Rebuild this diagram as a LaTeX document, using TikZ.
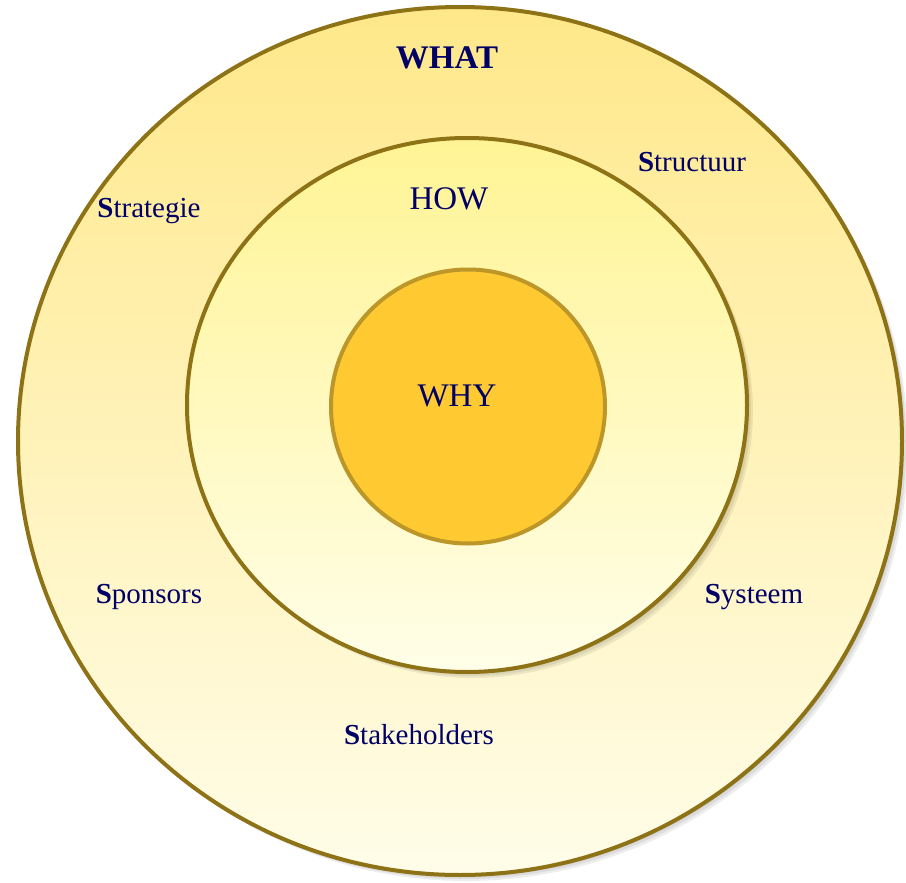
\documentclass[tikz,border=0pt]{standalone}
\usepackage{fontspec}
\setmainfont{Liberation Serif}
\definecolor{navy}{HTML}{000066}
\definecolor{rim}{HTML}{8E7216}
\definecolor{outertop}{HTML}{FFE88A}
\definecolor{outerbot}{HTML}{FFFDE9}
\definecolor{midtop}{HTML}{FFF494}
\definecolor{midbot}{HTML}{FFFEE8}
\definecolor{core}{HTML}{FFCA31}
\definecolor{corerim}{HTML}{BC9628}
\tikzset{
  word/.style={text=navy, font=\fontsize{29}{31}\selectfont},
  title/.style={text=navy, font=\fontsize{33}{35}\selectfont},
  shadow/.style={fill=black, opacity=0.07}
}
\begin{document}
\begin{tikzpicture}[x=1pt, y=-1pt]
  \useasboundingbox (0,0) rectangle (906,883);
  % outer ring
  \foreach \d in {2,4,6}
    \fill[shadow] (460+\d,441+\d) ellipse (442pt and 434pt);
  \shade[top color=outertop, bottom color=outerbot, draw=rim, line width=4pt]
    (460,441) ellipse (442pt and 434pt);
  % middle ring
  \foreach \d in {2,4,6}
    \fill[shadow] (467+\d,405+\d) ellipse (280pt and 267pt);
  \shade[top color=midtop, bottom color=midbot, draw=rim, line width=4pt]
    (467,405) ellipse (280pt and 267pt);
  % core
  \draw[fill=core, draw=corerim, line width=4pt] (468,406.5) circle (137pt);
  % texts
  \node[title, font=\fontsize{33}{35}\selectfont\bfseries] (what) at (447,58) {WHAT};
  \node[title] (how) at (449,199) {HOW};
  \node[title] (why) at (457,396) {WHY};
  \node[word] (strategie) at (149,211) {{\bfseries S}trategie};
  \node[word] (structuur) at (692,162) {{\bfseries S}tructuur};
  \node[word] (sponsors) at (149,597) {{\bfseries S}ponsors};
  \node[word] (systeem) at (754,597) {{\bfseries S}ysteem};
  \node[word] (stakeholders) at (419,735) {{\bfseries S}takeholders};
\end{tikzpicture}
\end{document}
